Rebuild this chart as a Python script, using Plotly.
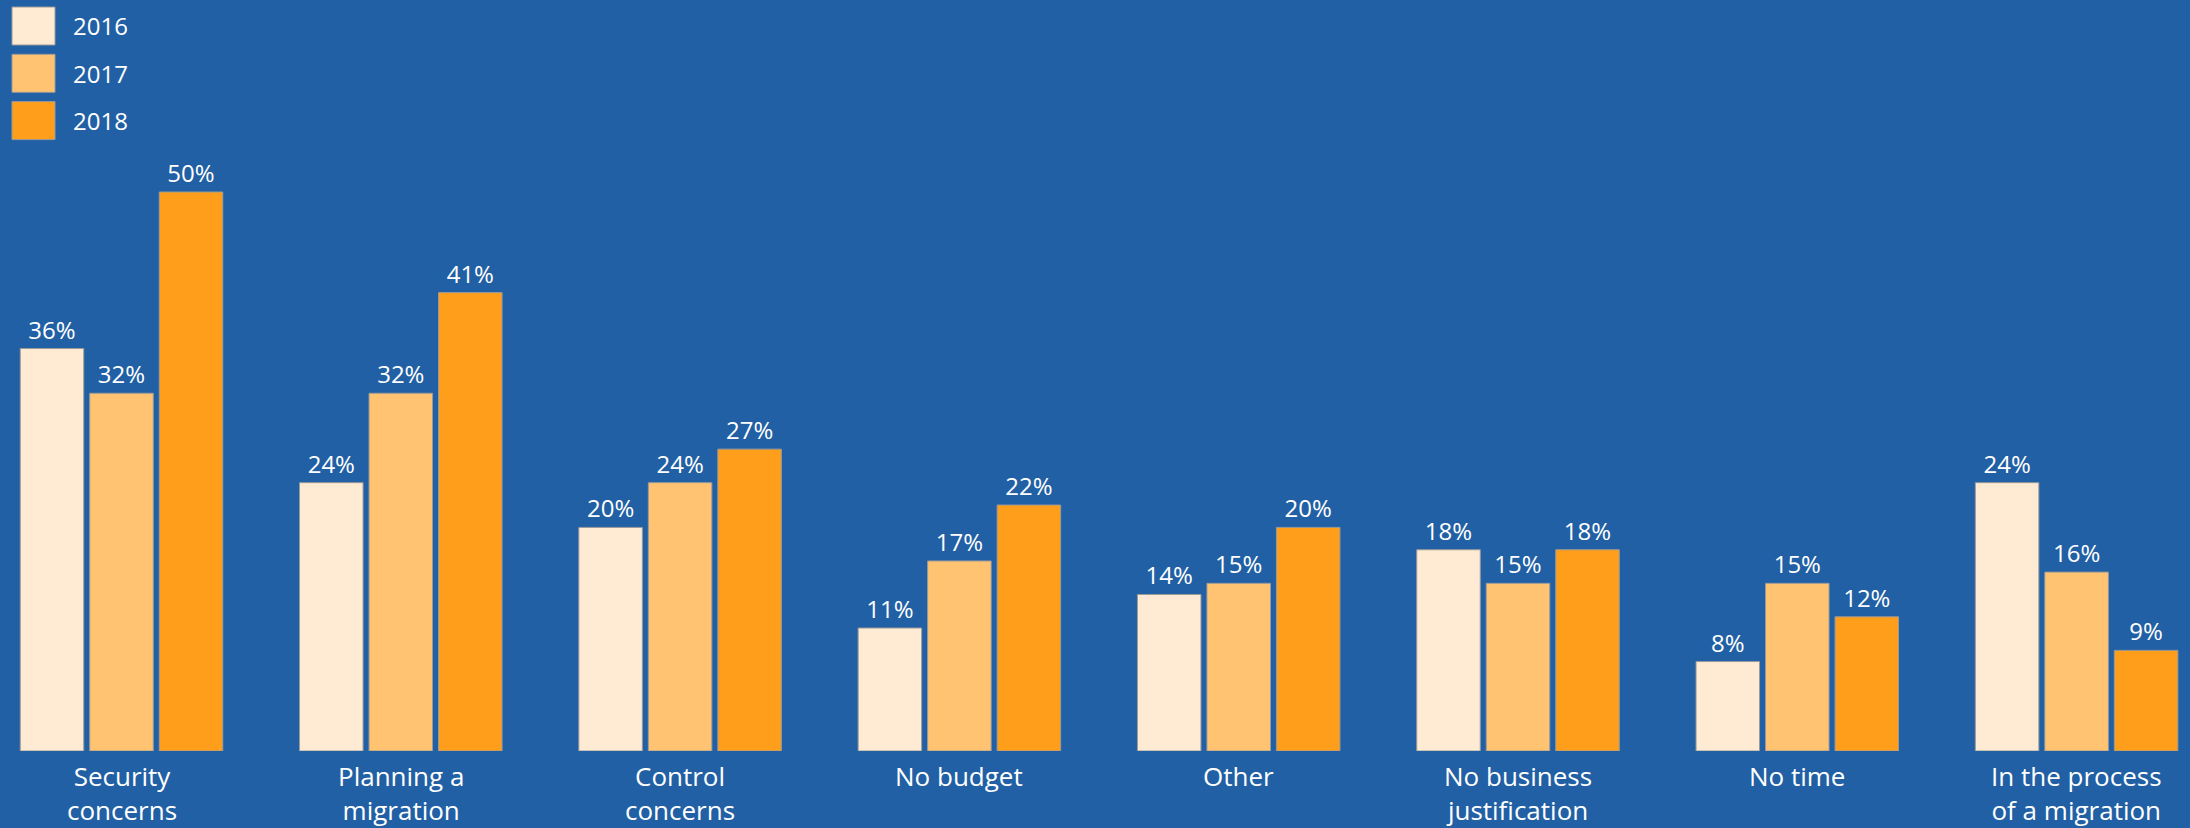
import plotly.graph_objects as go

# ---- data ----
categories = ["Security concerns", "Planning a migration", "Control concerns", "No budget",
              "Other", "No business justification", "No time", "In the process of a migration"]
category_labels = ["Security<br>concerns", "Planning a<br>migration", "Control<br>concerns",
                   "No budget", "Other", "No business<br>justification", "No time",
                   "In the process<br>of a migration"]
years = ["2016", "2017", "2018"]
v2016 = [36, 24, 20, 11, 14, 18, 8, 24]
v2017 = [32, 32, 24, 17, 15, 15, 15, 16]
v2018 = [50, 41, 27, 22, 20, 18, 12, 9]

# ---- style ----
BG = "#2160A4"
COLORS = ["#FFEBD3", "#FFC372", "#FF9E1A"]
FONT = "Open Sans"
W, H = 2190, 828
BOTTOM = 77  # px below plot area

series = [v2016, v2017, v2018]
fig = go.Figure()
for yr, vals, col in zip(years, series, COLORS):
    fig.add_trace(go.Bar(
        name=yr, x=categories, y=vals, marker=dict(color=col, line=dict(color="#9a9a9a", width=1)),
        text=[f"{v}%" for v in vals], textposition="outside", cliponaxis=False,
        textfont=dict(family=FONT, size=24, color="#FFFFFF"), showlegend=False,
        hoverinfo="skip"))

# category labels
annotations = []
for cat, lab in zip(categories, category_labels):
    annotations.append(dict(x=cat, xref="x", y=0, yref="paper", yanchor="top",
                            yshift=-5, text=lab, showarrow=False, align="center",
                            font=dict(family=FONT, size=26, color="#FFFFFF")))

# legend built from swatches + text
plot_h = H - BOTTOM
shapes = []
for i, (yr, col) in enumerate(zip(years, COLORS)):
    top = 7 + 47.3 * i
    bot = top + 38
    shapes.append(dict(type="rect", xref="paper", yref="paper",
                       x0=12 / W, x1=55 / W, y0=(plot_h - bot) / plot_h, y1=(plot_h - top) / plot_h,
                       fillcolor=col, line=dict(color="#9a9a9a", width=1)))
    annotations.append(dict(x=71 / W, xref="paper", xanchor="left",
                            y=(plot_h - (top + 19)) / plot_h, yref="paper", yanchor="middle",
                            text=yr, showarrow=False,
                            font=dict(family=FONT, size=24, color="#FFFFFF")))

px_per_cat = 279.3
first_center = 121.5
r0 = -first_center / px_per_cat
r1 = r0 + W / px_per_cat

fig.update_layout(
    width=W, height=H, paper_bgcolor=BG, plot_bgcolor=BG,
    margin=dict(l=0, r=0, t=0, b=BOTTOM),
    barmode="group", bargap=0.2535, bargroupgap=0.086,
    xaxis=dict(range=[r0, r1], showticklabels=False, showgrid=False, zeroline=False,
               showline=False, ticks=""),
    yaxis=dict(range=[0, plot_h / 11.18], visible=False, showgrid=False, zeroline=False),
    annotations=annotations, shapes=shapes,
)

fig.write_html("out.html", config={"displayModeBar": False},
               post_script="document.body.style.margin='0';document.body.style.overflow='hidden';")
